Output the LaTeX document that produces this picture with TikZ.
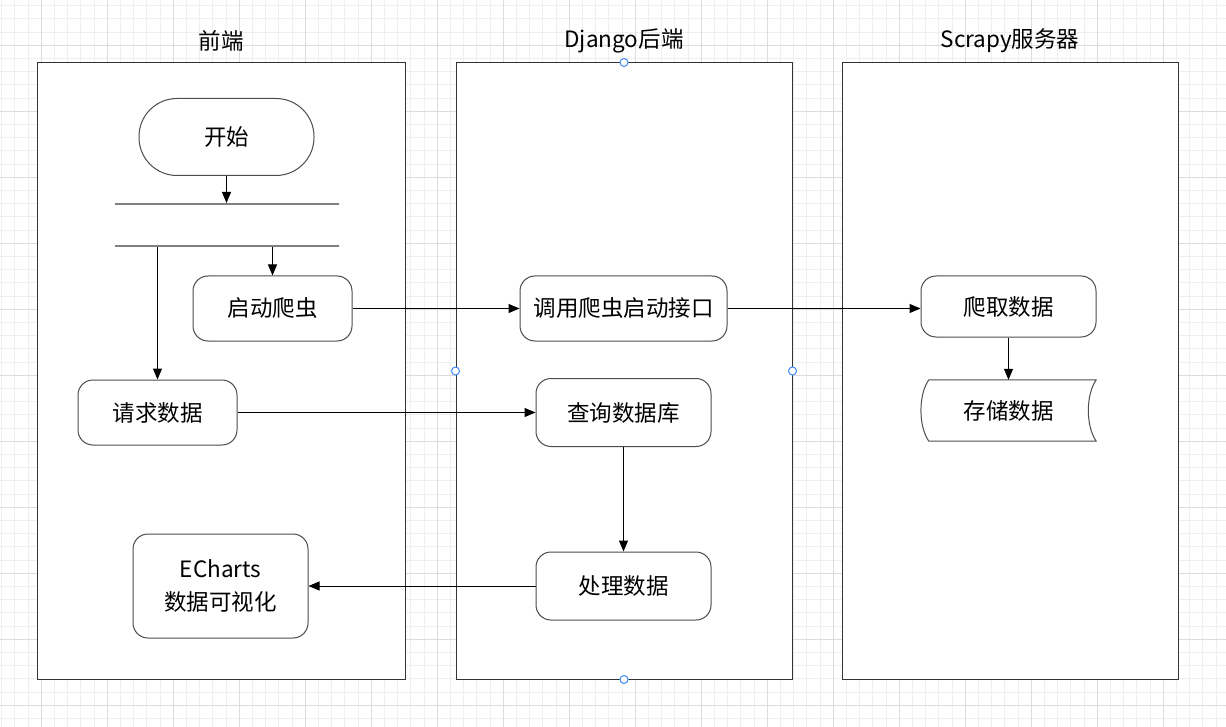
\documentclass[tikz,border=0pt]{standalone}
\usepackage{fontspec}
\setmainfont{Noto Sans CJK SC}
\usetikzlibrary{arrows.meta}
\definecolor{gitterfein}{HTML}{EFEFEF}
\definecolor{gittergrob}{HTML}{DCDCDC}
\definecolor{griffblau}{HTML}{3D8BF5}
\tikzset{
	lane/.style={draw=black!80, fill=white, line width=1pt, inner sep=0pt},
	box/.style={draw=black!70, rounded corners=15pt, line width=1pt, align=center, inner sep=0pt},
	fork/.style={draw=black!50, line width=2pt, minimum width=224pt, minimum height=0pt, inner sep=0pt},
	arr/.style={-{Triangle[length=11pt,width=9pt]}, line width=1pt},
	griff/.style={circle, draw=griffblau, fill=white, minimum size=8pt, inner sep=0pt, line width=1pt}
}
\begin{document}
\begin{tikzpicture}[x=1pt, y=-1pt, font=\fontsize{22.5}{33}\selectfont]
	\useasboundingbox (0,0) rectangle (1226,727);
	\fill[white] (0,0) rectangle (1226,727);
	% Gitter
	\foreach \i in {0,...,92}
		\draw[gitterfein] ({1.4+13.2*\i},0) -- ({1.4+13.2*\i},727);
	\foreach \i in {0,...,54}
		\draw[gitterfein] (0,{5.4+13.2*\i}) -- (1226,{5.4+13.2*\i});
	\foreach \i in {0,...,17}
		\draw[gittergrob] ({41+66*\i},0) -- ({41+66*\i},727);
	\foreach \i in {0,...,10}
		\draw[gittergrob] (0,{45+66*\i}) -- (1226,{45+66*\i});

	% Spalten
	\node (laneA) [lane, minimum width=368pt, minimum height=616pt] at (221,371) {};
	\node (laneB) [lane, minimum width=336pt, minimum height=616pt] at (624,371) {};
	\node (laneC) [lane, minimum width=336pt, minimum height=616pt] at (1010,371) {};
	\node (titleA) at (221,41) {前端};
	\node (titleB) at (624,41) {Django后端};
	\node (titleC) at (1010,41) {Scrapy服务器};
	\foreach \a in {north,south,east,west}
		\node (griff-\a) [griff] at (laneB.\a) {};

	% Frontend
	\node (start) [box, rounded corners=38pt, minimum width=175pt, minimum height=77pt] at (226.5,137) {开始};
	\node (barA) [fork] at (227,204) {};
	\node (barB) [fork] at (227,246) {};
	\node (spider) [box, minimum width=159pt, minimum height=65pt] at (272.5,308.5) {启动爬虫};
	\node (request) [box, minimum width=159pt, minimum height=65pt] at (157.5,412.5) {请求数据};
	\node (echarts) [box, minimum width=175pt, minimum height=104pt] at (220.5,586) {ECharts\\数据可视化};

	% Backend
	\node (api) [box, minimum width=207pt, minimum height=65pt] at (623.5,308.5) {调用爬虫启动接口};
	\node (query) [box, minimum width=175pt, minimum height=68pt] at (623.5,412.5) {查询数据库};
	\node (process) [box, minimum width=175pt, minimum height=68pt] at (623.5,586) {处理数据};

	% Scrapy
	\node (crawl) [box, minimum width=175pt, minimum height=61pt] at (1008.5,306.5) {爬取数据};
	\node (store) [minimum width=175pt, minimum height=61pt, inner sep=0pt] at (1008.5,410.5) {存储数据};
	\draw[draw=black!70, line width=1pt] ([xshift=8pt]store.north west) -- (store.north east)
		.. controls ([xshift=-10.5pt,yshift=-15pt]store.north east) and ([xshift=-10.5pt,yshift=15pt]store.south east) .. (store.south east)
		-- ([xshift=8pt]store.south west)
		.. controls ([xshift=-2.5pt,yshift=15pt]store.south west) and ([xshift=-2.5pt,yshift=-15pt]store.north west) .. ([xshift=8pt]store.north west);

	% Pfeile
	\draw[arr] (start.south) -- (start.south |- barA.north);
	\draw[arr] (barB.south -| spider.north) -- (spider.north);
	\draw[arr] (barB.south -| request.north) -- (request.north);
	\draw[arr] (spider) -- (api);
	\draw[arr] (api.east) -- (api.east -| crawl.west);
	\draw[arr] (crawl) -- (store);
	\draw[arr] (request) -- (query);
	\draw[arr] (query) -- (process);
	\draw[arr] (process) -- (echarts);
\end{tikzpicture}
\end{document}
